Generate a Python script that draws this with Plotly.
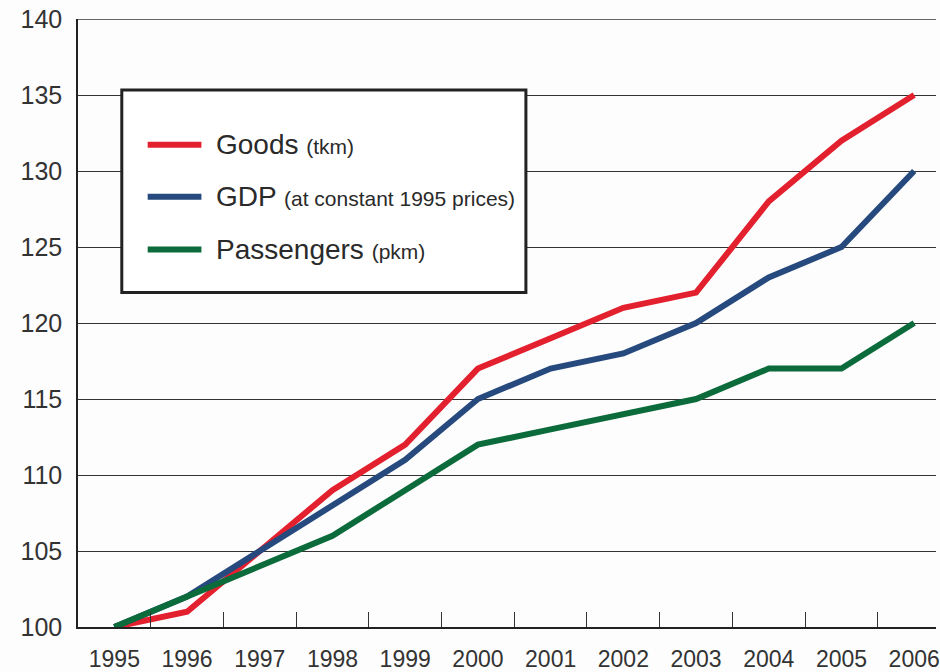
import plotly.graph_objects as go

years = ["1995", "1996", "1997", "1998", "1999", "2000", "2001", "2002", "2003", "2004", "2005", "2006"]
goods = [100, 101, 105, 109, 112, 117, 119, 121, 122, 128, 132, 135]
gdp = [100, 102, 105, 108, 111, 115, 117, 118, 120, 123, 125, 130]
passengers = [100, 102, 104, 106, 109, 112, 113, 114, 115, 117, 117, 120]
y_ticks = [100, 105, 110, 115, 120, 125, 130, 135, 140]

series = [
    ("Goods", "(tkm)", goods, "#E3202E"),
    ("GDP", "(at constant 1995 prices)", gdp, "#264A7D"),
    ("Passengers", "(pkm)", passengers, "#0B6B3A"),
]

W, H = 940, 672
L, R, T, B = 78, 0, 19, 44
pw, ph = W - L - R, H - T - B

def px(x):
    return (x - L) / pw

def py(y):
    return (H - B - y) / ph

fig = go.Figure()
for name, unit, vals, col in series:
    fig.add_trace(go.Scatter(
        x=years, y=vals, mode="lines", name=name,
        line=dict(color=col, width=6), showlegend=False,
        hoverinfo="x+y",
    ))

shapes = []
annotations = []
# legend box
shapes.append(dict(type="rect", xref="paper", yref="paper",
                   x0=px(122), x1=px(528), y0=py(90), y1=py(293),
                   line=dict(color="#222222", width=3), fillcolor="white", layer="above"))
leg_y = [145, 197, 250]
for (name, unit, vals, col), yy in zip(series, leg_y):
    shapes.append(dict(type="line", xref="paper", yref="paper",
                       x0=px(148), x1=px(202), y0=py(yy), y1=py(yy),
                       line=dict(color=col, width=6), layer="above"))
    annotations.append(dict(xref="paper", yref="paper", x=px(215), y=py(yy),
                            xanchor="left", yanchor="middle", showarrow=False,
                            text=f"{name} <span style='font-size:21px'>{unit}</span>",
                            font=dict(size=28, color="#2a2a2a", family="Liberation Sans, Arial")))
# top gridline
shapes.append(dict(type="line", xref="paper", yref="y", x0=0, x1=1, y0=140, y1=140,
                   line=dict(color="#333333", width=1.5), layer="below"))

fig.update_layout(
    width=W, height=H,
    margin=dict(l=L, r=R, t=T, b=B, pad=0),
    paper_bgcolor="#fdfdfd", plot_bgcolor="#fdfdfd",
    font=dict(family="Liberation Sans, Arial", color="#333333"),
    shapes=shapes, annotations=annotations,
    xaxis=dict(type="category", range=[-0.5, 11.3], showgrid=False,
               showline=True, linecolor="#222222", linewidth=1.5,
               ticks="inside", tickson="boundaries", ticklen=15, tickcolor="#333333", tickwidth=1,
               tickfont=dict(size=23, color="#333333"), ticklabelstandoff=11),
    yaxis=dict(range=[100, 140], tickvals=y_ticks, showgrid=True, gridcolor="#333333", gridwidth=1,
               showline=True, linecolor="#222222", linewidth=1.5, zeroline=False,
               ticks="", tickfont=dict(size=25, color="#333333"), ticklabelstandoff=9),
)

fig.write_html("out.html")
